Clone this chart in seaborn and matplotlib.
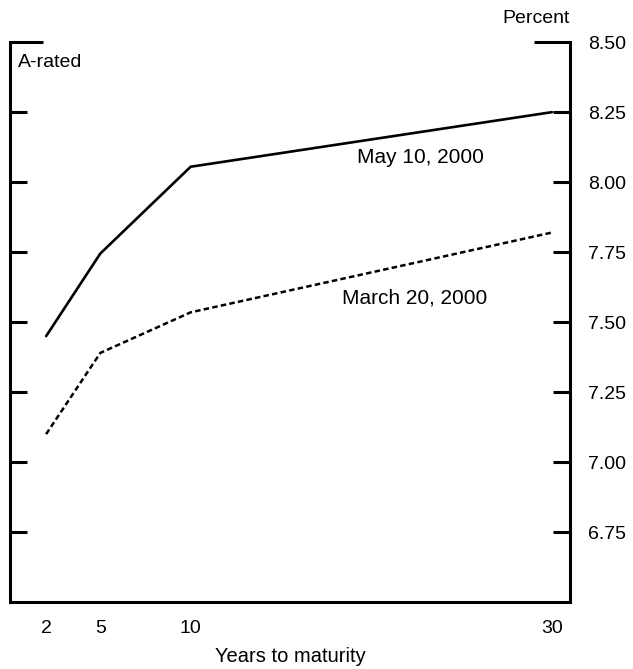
import matplotlib
matplotlib.use('Agg')
import matplotlib.pyplot as plt
import numpy as np
import pandas as pd
import seaborn as sns

# 数据
maturity = [2, 5, 10, 30]
may_10 = [7.45, 7.745, 8.055, 8.25]
march_20 = [7.10, 7.39, 7.535, 7.82]
y_ticks = [6.75, 7.00, 7.25, 7.50, 7.75, 8.00, 8.25, 8.50]
x_ticks = [2, 5, 10, 30]

sns.set_theme(style='white')
plt.rcParams['font.family'] = ['Liberation Sans', 'DejaVu Sans']
plt.rcParams['text.color'] = 'black'
plt.rcParams['axes.labelcolor'] = 'black'

df = pd.DataFrame({'maturity': maturity, 'may': may_10, 'march': march_20})

fig = plt.figure(figsize=(6.33, 6.69), dpi=100)
ax = fig.add_axes([0.0158, 0.1, 0.8847, 0.837])

sns.lineplot(x='maturity', y='may', data=df, color='black', linewidth=1.9, ax=ax)
sns.lineplot(x='maturity', y='march', data=df, color='black', linewidth=1.8,
             linestyle=(0, (2.2, 1.3)), ax=ax)

ax.set_xlim(0, 31)
ax.set_ylim(6.5, 8.5)

# 坐标轴样式
for side in ['left', 'right', 'bottom']:
    ax.spines[side].set_linewidth(2.2)
    ax.spines[side].set_color('black')
ax.spines['top'].set_visible(False)

ax.set_xticks(x_ticks)
ax.set_xticklabels([str(t) for t in x_ticks], fontsize=14)
ax.set_yticks(y_ticks)
ax.set_yticklabels(['%.2f' % t for t in y_ticks], fontsize=14)

ax.tick_params(axis='x', direction='in', length=13, width=2.2, pad=13, colors='black')
ax.tick_params(axis='y', direction='in', length=12, width=2.2, pad=13, colors='black',
               left=True, right=True, labelleft=False, labelright=True)

# 顶部刻度较长
top_tick = ax.yaxis.get_major_ticks()[-1]
top_tick.tick1line.set_markersize(24)
top_tick.tick2line.set_markersize(26)

ax.set_xlabel('Years to maturity', fontsize=14.5, labelpad=7, color='black')
ax.set_ylabel('')

ax.text(0.014, 0.964, 'A-rated', transform=ax.transAxes, fontsize=14,
        ha='left', va='center')
ax.text(1.0, 1.043, 'Percent', transform=ax.transAxes, fontsize=14,
        ha='right', va='center')
ax.text(22.7, 8.089, 'May 10, 2000', fontsize=15, ha='center', va='center')
ax.text(22.4, 7.586, 'March 20, 2000', fontsize=15, ha='center', va='center')

fig.savefig('out.png', dpi=100)
